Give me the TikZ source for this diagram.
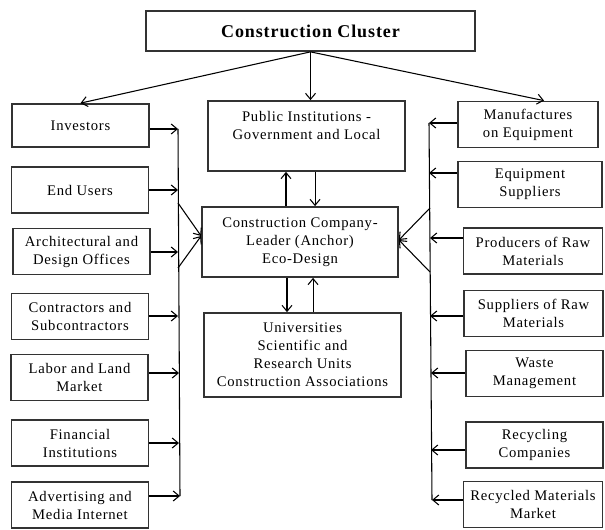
\documentclass[tikz,border=0pt]{standalone}
\usepackage{fontspec}
\setmainfont[LetterSpace=5]{Liberation Serif}
\usetikzlibrary{arrows.meta}

\begin{document}
\begin{tikzpicture}[x=0.75pt,y=-0.75pt,
  box/.style={draw=black!80, line width=1.3pt, align=center, inner sep=2pt,
    font=\fontsize{11}{13.5}\selectfont},
  lbox/.style={box, minimum width=102.75pt, minimum height=34.5pt},
  rbox/.style={box, minimum width=104.25pt, minimum height=34.5pt},
  arr/.style={line width=0.8pt, -{Straight Barb[length=4.5pt,width=7.5pt]}},
  bus/.style={line width=0.8pt}]

\useasboundingbox (0,0) rectangle (605,530);

\node [box, minimum width=246.75pt, minimum height=30pt,
  font=\fontsize{13.5}{16}\selectfont\bfseries] (cc) at (310.5,31) {Construction Cluster};

% left column
\node [lbox, minimum height=32.25pt] (inv) at (80.5,125.5) {Investors};
\node [lbox] (eu) at (80,190) {End Users};
\node [lbox] (arch) at (81.5,251.5) {Architectural and\\Design Offices};
\node [lbox] (con) at (80,316.5) {Contractors and\\Subcontractors};
\node [lbox] (lab) at (79.5,377.5) {Labor and Land\\Market};
\node [lbox] (fin) at (80,443) {Financial\\Institutions};
\node [lbox] (adv) at (80,505) {Advertising and\\Media Internet};

% middle
\node [box, minimum width=147.75pt, minimum height=52.5pt] (pu) at (306.5,136)
  {Public Institutions -\\Government and Local\\[2pt]\mbox{}};
\node [box, minimum width=147pt, minimum height=52.5pt] (co) at (300,242)
  {Construction Company-\\Leader (Anchor)\\Eco-Design};
\node [box, minimum width=147.75pt, minimum height=63pt] (un) at (302.5,355)
  {Universities\\Scientific and\\Research Units\\Construction Associations};

% right column
\node [rbox, minimum width=105pt] (ma) at (528,124.5) {Manufactures\\on Equipment};
\node [rbox, minimum width=108pt] (eq) at (530,184.5) {Equipment\\Suppliers};
\node [rbox] (pr) at (533,251) {Producers of Raw\\Materials};
\node [rbox] (su) at (533.5,313.5) {Suppliers of Raw\\Materials};
\node [rbox, minimum width=102.75pt] (wa) at (534.5,373.5) {Waste\\Management};
\node [rbox, minimum width=102.75pt] (rc) at (534.5,445) {Recycling\\Companies};
\node [rbox] (rm) at (533,504.5) {Recycled Materials\\Market};

% bus taps
\coordinate (l1) at (178,129);
\coordinate (l2) at (178,190);
\coordinate (l3) at (178,252);
\coordinate (l4) at (178,316);
\coordinate (l5) at (179,373);
\coordinate (l6) at (179,443);
\coordinate (l7) at (180,496);
\coordinate (ld1) at (178,203);
\coordinate (ld2) at (178,268);

\coordinate (r1) at (429,123);
\coordinate (r2) at (429,173);
\coordinate (r3) at (430,238);
\coordinate (r4) at (430,316);
\coordinate (r5) at (431,373);
\coordinate (r6) at (431,450);
\coordinate (r7) at (432,500);
\coordinate (rd1) at (430,208);
\coordinate (rd2) at (430,272);

\draw [bus] (l1) -- (l7);
\draw [bus] (r1) -- (r7);

\draw [arr] (inv.east |- l1) -- (l1);
\draw [arr] (eu.east |- l2) -- (l2);
\draw [arr] (arch.east |- l3) -- (l3);
\draw [arr] (con.east |- l4) -- (l4);
\draw [arr] (lab.east |- l5) -- (l5);
\draw [arr] (fin.east |- l6) -- (l6);
\draw [arr] (adv.east |- l7) -- (l7);

\draw [arr] (ma.west |- r1) -- (r1);
\draw [arr] (eq.west |- r2) -- (r2);
\draw [arr] (pr.west |- r3) -- (r3);
\draw [arr] (su.west |- r4) -- (r4);
\draw [arr] (wa.west |- r5) -- (r5);
\draw [arr] (rc.west |- r6) -- (r6);
\draw [arr] (rm.west |- r7) -- (r7);

\draw [arr] (ld1) -- ([yshift=4.5pt]co.west);
\draw [arr] (ld2) -- ([yshift=4.5pt]co.west);
\draw [arr] (rd1) -- ([yshift=1.5pt]co.east);
\draw [arr] (rd2) -- ([yshift=1.5pt]co.east);

% from the cluster
\draw [arr] (cc.south) -- (inv.north);
\draw [arr] (cc.south) -- (cc.south |- pu.north);
\draw [arr] (cc.south) -- ([xshift=12pt]ma.north);

% up and down in the middle
\coordinate (cu) at ([xshift=-10.5pt]co.north);
\coordinate (pd) at ([xshift=6.4pt]pu.south);
\coordinate (cd) at ([xshift=-9.75pt]co.south);
\coordinate (uu) at ([xshift=7.9pt]un.north);
\draw [arr] (cu) -- (cu |- pu.south);
\draw [arr] (pd) -- (pd |- co.north);
\draw [arr] (cd) -- (cd |- un.north);
\draw [arr] (uu) -- (uu |- co.south);

\end{tikzpicture}
\end{document}
